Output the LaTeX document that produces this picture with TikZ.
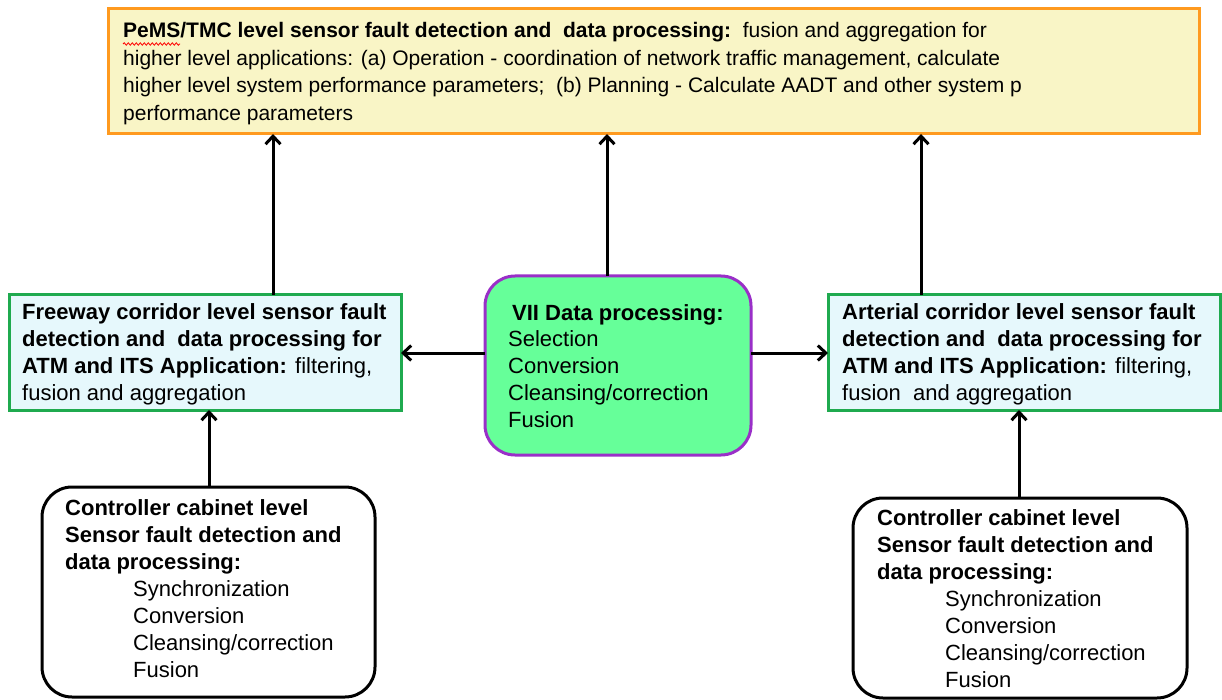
\documentclass[tikz,border=0pt]{standalone}
\usepackage{fontspec}
\setmainfont{Liberation Sans}
\usetikzlibrary{arrows.meta,decorations.pathmorphing}
\definecolor{orangeb}{HTML}{FF9A1F}
\definecolor{yellowf}{HTML}{F9F5C6}
\definecolor{greenb}{HTML}{1FAA4F}
\definecolor{cyanf}{HTML}{E6F8FC}
\definecolor{purpleb}{HTML}{9A2FC8}
\definecolor{greenf}{HTML}{66FF99}
\begin{document}
\begin{tikzpicture}[x=1pt,y=-1pt,
  box/.style={draw,line width=3pt,inner sep=0pt,outer sep=0pt},
  txt/.style={anchor=base west,align=left,inner sep=0pt,text=black},
  arr/.style={line width=3pt,-{Straight Barb[length=8pt,width=15pt,line width=3pt]}}]
\useasboundingbox (0,0) rectangle (1222,700);
% boxes
\node[box,draw=orangeb,fill=yellowf,minimum width=1091pt,minimum height=125pt] (top) at (653.5,71.5) {};
\node[box,draw=greenb,fill=cyanf,minimum width=392pt,minimum height=115pt] (fwy) at (205,352.5) {};
\node[box,draw=purpleb,fill=greenf,rounded corners=30pt,minimum width=266pt,minimum height=179pt] (vii) at (618,365.5) {};
\node[box,draw=greenb,fill=cyanf,minimum width=392pt,minimum height=115pt] (art) at (1024,352.5) {};
\node[box,draw=black,fill=white,rounded corners=30pt,minimum width=333pt,minimum height=210pt] (ccl) at (208.5,592) {};
\node[box,draw=black,fill=white,rounded corners=30pt,minimum width=334pt,minimum height=200pt] (ccr) at (1020,598) {};
% texts (anchored at the baseline of the last line)
\node[txt,font=\fontsize{21}{27.5}\selectfont] (toptext) at (123,120.5)
 {\textbf{PeMS/TMC level sensor fault detection and\ \ data processing:}\ \ fusion and aggregation for\\
  higher level applications: (a) Operation - coordination of network traffic management, calculate\\
  higher level system performance parameters;\ \ (b) Planning - Calculate AADT and other system p\\
  performance parameters};
\coordinate (sq1) at (123,44);
\coordinate (sq2) at (180,44);
\draw[red,line width=0.8pt,decorate,decoration={snake,amplitude=1.2pt,segment length=4pt}] (sq1) -- (sq2);
\node[txt,font=\fontsize{22}{27}\selectfont] (fwytext) at (22,400)
 {\textbf{Freeway corridor level sensor fault}\\
  \textbf{detection and\ \ data processing for}\\
  \textbf{ATM and ITS Application:} filtering,\\
  fusion and aggregation};
\node[txt,font=\fontsize{22}{27}\selectfont] (arttext) at (842,400)
 {\textbf{Arterial corridor level sensor fault}\\
  \textbf{detection and\ \ data processing for}\\
  \textbf{ATM and ITS Application:} filtering,\\
  fusion\ \ and aggregation};
\node[txt,font=\fontsize{22}{26.7}\selectfont] (viitext) at (508,427)
 {\hspace*{4pt}\textbf{VII Data processing:}\\
  Selection\\ Conversion\\ Cleansing/correction\\ Fusion};
\node[txt,font=\fontsize{22}{27}\selectfont] (ccltext) at (65,677)
 {\textbf{Controller cabinet level}\\
  \textbf{Sensor fault detection and}\\
  \textbf{data processing:}\\
  \hspace*{68pt}Synchronization\\
  \hspace*{68pt}Conversion\\
  \hspace*{68pt}Cleansing/correction\\
  \hspace*{68pt}Fusion};
\node[txt,font=\fontsize{22}{27}\selectfont] (ccrtext) at (877,687)
 {\textbf{Controller cabinet level}\\
  \textbf{Sensor fault detection and}\\
  \textbf{data processing:}\\
  \hspace*{68pt}Synchronization\\
  \hspace*{68pt}Conversion\\
  \hspace*{68pt}Cleansing/correction\\
  \hspace*{68pt}Fusion};
% connectors
\coordinate (xa) at (273,0);
\coordinate (xb) at (607,0);
\coordinate (xc) at (921,0);
\coordinate (xd) at (209,0);
\coordinate (xe) at (1019,0);
\coordinate (ym) at (0,353);
\draw[arr] (fwy.north -| xa) -- (top.south -| xa);
\draw[arr] (vii.north -| xb) -- (top.south -| xb);
\draw[arr] (art.north -| xc) -- (top.south -| xc);
\draw[arr] (vii.west |- ym) -- (fwy.east |- ym);
\draw[arr] (vii.east |- ym) -- (art.west |- ym);
\draw[arr] (ccl.north -| xd) -- (fwy.south -| xd);
\draw[arr] (ccr.north -| xe) -- (art.south -| xe);
\end{tikzpicture}
\end{document}
